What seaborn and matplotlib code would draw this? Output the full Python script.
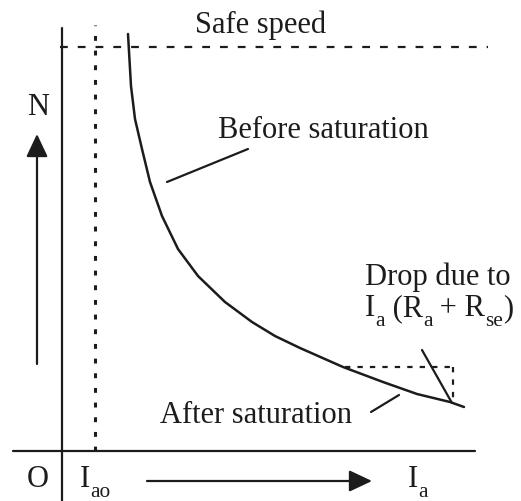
import numpy as np
import pandas as pd
import matplotlib
matplotlib.use('Agg')
import matplotlib.pyplot as plt
import seaborn as sns

# speed-current curve of a series motor
# (I = armature current, N = speed, origin where the axes cross)
curve_i = [66, 69, 73, 80, 88, 100, 116, 136, 163, 190, 213, 238, 281, 321, 355, 388, 402]
curve_n = [417, 365, 332, 302, 269, 235, 202, 175, 149, 129, 115, 103, 84, 69, 57, 49, 44]

i_ao = 33          # no-load current
safe_speed = 404   # safe speed level
drop_i = 391       # current at the drop box
drop_n = 84        # speed before the drop

ink = '#1c1c1c'

sns.set_theme(style='white')
plt.rcParams['font.family'] = ['Liberation Serif', 'DejaVu Serif']

fig = plt.figure(figsize=(5.21, 5.02), dpi=100)
ax = fig.add_axes([0, 0, 1, 1])
ax.set_xlim(-62, 459)
ax.set_ylim(-50, 452)
ax.axis('off')

# axes
ax.plot([0, 0], [-50, 423], color=ink, lw=1.6)
ax.plot([-49, 413], [0, 0], color=ink, lw=1.6)

# I_ao dotted line and safe speed dashed line
ax.plot([i_ao, i_ao], [0, 426], color=ink, lw=2.2, dashes=(1.6, 3.2))
ax.plot([-2, 426], [safe_speed, safe_speed], color=ink, lw=1.6, dashes=(3.5, 4.5))

# main curve
sns.lineplot(x=curve_i, y=curve_n, ax=ax, color=ink, lw=1.8, sort=False, estimator=None)

# drop box
ax.plot([283, drop_i], [drop_n, drop_n], color=ink, lw=1.6, dashes=(2.4, 3.2))
ax.plot([drop_i, drop_i], [drop_n, 50], color=ink, lw=1.6, dashes=(2.4, 3.2))

# leader lines
ax.plot([105, 186], [269, 302], color=ink, lw=1.6)
ax.plot([309, 337], [39, 56], color=ink, lw=1.6)
ax.plot([360, 390], [101, 48], color=ink, lw=1.6)

# direction arrows
arrow = dict(arrowstyle='-|>,head_length=0.7,head_width=0.33', mutation_scale=20,
             lw=1.6, color=ink, shrinkA=0, shrinkB=0)
ax.annotate('', xy=(-25, 317), xytext=(-25, 87), arrowprops=arrow)
ax.annotate('', xy=(310, -30), xytext=(85, -30), arrowprops=arrow)

fs = 22
txt = dict(color=ink, va='baseline', ha='left')
renderer = fig.canvas.get_renderer()


def label(x, y, parts):
    # draw text pieces one after another, subscripts smaller and lower
    cur = x
    for s, sub in parts:
        t = ax.text(cur, y - 10 if sub else y, s, fontsize=fs * 0.7 if sub else fs, **txt)
        bb = t.get_window_extent(renderer)
        cur = ax.transData.inverted().transform((bb.x1, bb.y0))[0]


label(133, 419, [('Safe speed', False)])
label(-35, 337, [('N', False)])
label(156, 314, [('Before saturation', False)])
label(303, 167, [('Drop due to', False)])
label(303, 136, [('I', False), ('a', True), (' (R', False), ('a', True),
                 (' + R', False), ('se', True), (')', False)])
label(98, 29, [('After saturation', False)])
label(-35, -35, [('O', False)])
label(18, -35, [('I', False), ('ao', True)])
label(346, -35, [('I', False), ('a', True)])

plt.savefig('out.png', dpi=100)
